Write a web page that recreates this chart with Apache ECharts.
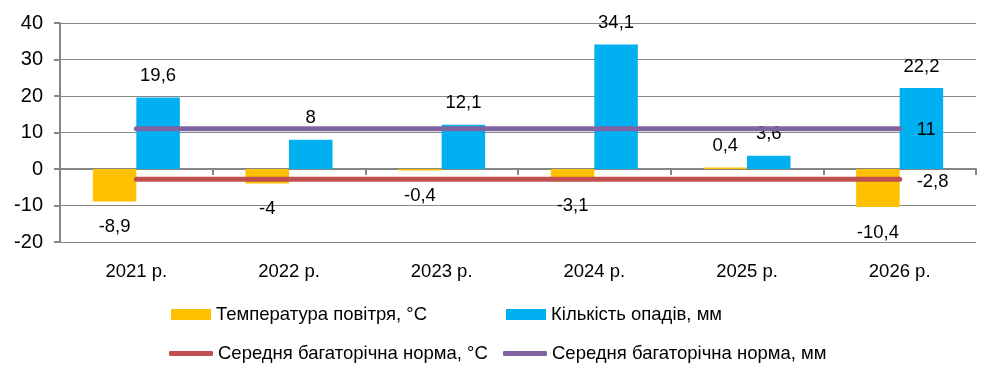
<!DOCTYPE html>
<html>
<head>
<meta charset="utf-8">
<script src="https://cdn.jsdelivr.net/npm/echarts@6/dist/echarts.min.js"></script>
<style>
html,body{margin:0;padding:0;background:#fff;}
#chart{width:998px;height:379px;}
</style>
</head>
<body>
<div id="chart"></div>
<script>
const categories = ['2021 р.', '2022 р.', '2023 р.', '2024 р.', '2025 р.', '2026 р.'];
const temperature = [-8.9, -4, -0.4, -3.1, 0.4, -10.4];
const precipitation = [19.6, 8, 12.1, 34.1, 3.6, 22.2];
const tempNorm = [-2.8, -2.8, -2.8, -2.8, -2.8, -2.8];
const precNorm = [11, 11, 11, 11, 11, 11];
const names = ['Температура повітря, °С', 'Кількість опадів, мм', 'Середня багаторічна норма, °С', 'Середня багаторічна норма, мм'];
const yTicks = { min: -20, max: 40, interval: 10 };

const FONT = "'Liberation Sans', Arial, sans-serif";
const FS = 18.5;
const fmt = v => String(v).replace('.', ',');
const barData = arr => arr.map(v => ({
  value: v,
  label: v < 0 ? { position: 'bottom', distance: 16 } : { position: 'top', distance: 12 }
}));

const chart = echarts.init(document.getElementById('chart'), null, { renderer: 'canvas' });
const legendBase = { padding: 0, itemGap: 0, textStyle: { color: '#000', fontSize: FS, fontFamily: FONT } };
chart.setOption({
  animation: false,
  backgroundColor: '#fff',
  textStyle: { fontFamily: FONT },
  grid: { left: 60, right: 22, top: 23, bottom: 137 },
  legend: [
    Object.assign({}, legendBase, { data: [names[0]], left: 171, top: 305, itemWidth: 40, itemHeight: 11, icon: 'rect' }),
    Object.assign({}, legendBase, { data: [names[1]], left: 506, top: 305, itemWidth: 40, itemHeight: 11, icon: 'rect' }),
    Object.assign({}, legendBase, { data: [names[2]], left: 169, top: 344, itemWidth: 44, itemHeight: 5, icon: 'roundRect' }),
    Object.assign({}, legendBase, { data: [names[3]], left: 503, top: 344, itemWidth: 44, itemHeight: 5, icon: 'roundRect' })
  ],
  xAxis: [
    {
      type: 'category', data: categories,
      axisLine: { onZero: true, lineStyle: { color: '#868686', width: 2 } },
      axisTick: { show: true, length: 6, inside: false, alignWithLabel: false, lineStyle: { color: '#868686', width: 2 } },
      axisLabel: { show: false },
      splitLine: { show: false }
    },
    {
      type: 'category', data: categories, position: 'bottom',
      axisLine: { show: false, onZero: false },
      axisTick: { show: false },
      axisLabel: { color: '#000', fontSize: FS, fontFamily: FONT, margin: 20 },
      splitLine: { show: false }
    }
  ],
  yAxis: {
    type: 'value', min: yTicks.min, max: yTicks.max, interval: yTicks.interval,
    axisLine: { show: true, lineStyle: { color: '#868686', width: 2 } },
    axisTick: { show: true, length: 6, lineStyle: { color: '#868686', width: 2 } },
    axisLabel: { color: '#000', fontSize: 20, fontFamily: FONT, margin: 17 },
    splitLine: { show: true, lineStyle: { color: '#898989', width: 1 } }
  },
  series: [
    {
      name: names[0], type: 'bar', xAxisIndex: 0, data: barData(temperature),
      barWidth: '28.5%', barGap: '0%',
      itemStyle: { color: '#FFC000' },
      label: { show: true, color: '#000', fontSize: FS, fontFamily: FONT, formatter: p => fmt(p.value) },
      z: 2
    },
    {
      name: names[1], type: 'bar', xAxisIndex: 0, data: barData(precipitation),
      barWidth: '28.5%', barGap: '0%',
      itemStyle: { color: '#00B0F0' },
      label: { show: true, color: '#000', fontSize: FS, fontFamily: FONT, formatter: p => fmt(p.value) },
      z: 2
    },
    {
      name: names[2], type: 'line', xAxisIndex: 0, data: tempNorm,
      showSymbol: false, symbol: 'none',
      lineStyle: { color: '#C0504D', width: 5, cap: 'round' },
      itemStyle: { color: '#C0504D' },
      endLabel: { show: true, distance: 17, offset: [0, 3], color: '#000', fontSize: FS, fontFamily: FONT, formatter: p => fmt(p.value) },
      z: 5
    },
    {
      name: names[3], type: 'line', xAxisIndex: 0, data: precNorm,
      showSymbol: false, symbol: 'none',
      lineStyle: { color: '#8064A2', width: 5, cap: 'round' },
      itemStyle: { color: '#8064A2' },
      endLabel: { show: true, distance: 17, offset: [0, 1], color: '#000', fontSize: FS, fontFamily: FONT, formatter: p => fmt(p.value) },
      z: 5
    }
  ]
});
</script>
</body>
</html>
